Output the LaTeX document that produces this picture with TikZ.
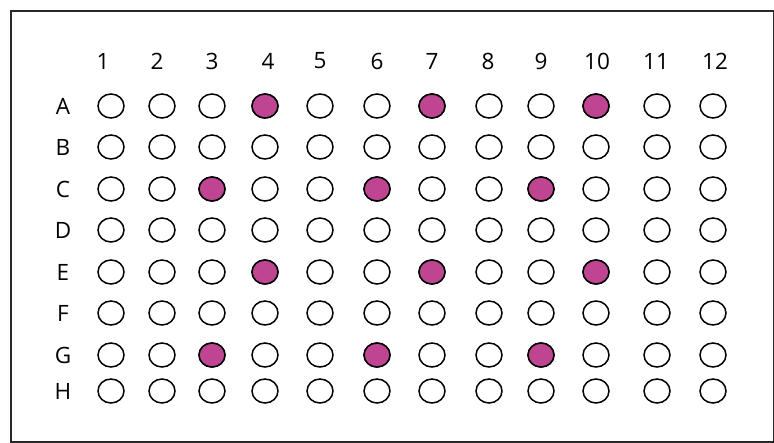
\documentclass[tikz,border=0pt]{standalone}
\usepackage{fontspec}
\setmainfont{Open Sans}
\usetikzlibrary{shapes.geometric}
\definecolor{wellfill}{RGB}{191,69,146}
\definecolor{framecol}{RGB}{40,40,40}
\tikzset{
  well/.style={ellipse, draw=black, line width=1.5pt, minimum width=26pt, minimum height=24pt, inner sep=0pt, fill=white},
  hit/.style={well, fill=wellfill},
  lbl/.style={font=\fontsize{22.5}{24}\selectfont, inner sep=0pt, text=black, anchor=center},
  plate/.style={draw=framecol, line width=1.5pt}
}
\begin{document}
\begin{tikzpicture}[x=1pt,y=-1pt]
\useasboundingbox (0,0) rectangle (774,442);
\node[plate, minimum width=763pt, minimum height=431pt, inner sep=0pt, anchor=north west] (frame) at (10,10) {};
% column and row positions
\def\colx{{111,162,212,265,320,377,432,489,541,596,657,713}}
\def\numx{{103,157,212,268,320,377,432,488,541,597,656,715}}
\def\rowy{{106,147,189,230,272,313,355,391}}
\foreach \c [count=\i from 0] in {1,...,12}{
  \pgfmathsetmacro{\nx}{\numx[\i]}
  \node[lbl] (n\c) at (\nx,61) {\c};
}
\foreach \r [count=\j from 0] in {A,B,C,D,E,F,G,H}{
  \pgfmathsetmacro{\ry}{\rowy[\j]}
  \node[lbl] (l\r) at (63,\ry) {\r};
  \foreach \c [count=\i from 0] in {1,...,12}{
    \pgfmathsetmacro{\cx}{\colx[\i]}
    \node[well] (\r\c) at (\cx,\ry) {};
  }
}
\foreach \w in {A4,A7,A10,C3,C6,C9,E4,E7,E10,G3,G6,G9}{
  \node[hit] at (\w) {};
}
\end{tikzpicture}
\end{document}
